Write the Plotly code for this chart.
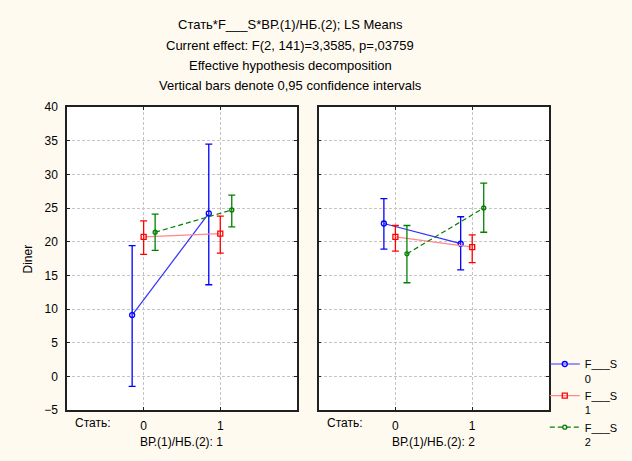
import plotly.graph_objects as go

# Data
stat_levels = [0, 1]
groups = ["F___S<br>0", "F___S<br>1", "F___S<br>2"]
panel_labels = ["ВР.(1)/НБ.(2): 1", "ВР.(1)/НБ.(2): 2"]

# panel 1 (ВР.(1)/НБ.(2) = 1)
p1_mean = [[9.1, 24.2], [20.7, 21.2], [21.4, 24.7]]
p1_lo = [[-1.5, 13.6], [18.1, 18.3], [18.7, 22.2]]
p1_hi = [[19.4, 34.5], [23.1, 23.8], [24.1, 26.9]]
# panel 2 (ВР.(1)/НБ.(2) = 2)
p2_mean = [[22.7, 19.7], [20.7, 19.2], [18.2, 25.0]]
p2_lo = [[18.9, 15.8], [18.6, 16.9], [13.9, 21.4]]
p2_hi = [[26.4, 23.7], [22.4, 21.0], [22.4, 28.7]]

colors = ["#0000FF", "#FF0000", "#008000"]
line_colors = ["#3030FF", "#FF8888", "#008000"]
dashes = ["solid", "solid", "5px,3px"]
symbols = ["circle-open", "square-open", "circle-open"]
sizes = [5, 5, 4]
offsets = [-0.15, 0.0, 0.15]

FONT = "Liberation Sans, Arial, sans-serif"

fig = go.Figure()
panels = [(p1_mean, p1_lo, p1_hi, "x", "y"), (p2_mean, p2_lo, p2_hi, "x2", "y2")]
for pi, (means, los, his, xa, ya) in enumerate(panels):
    for g in range(3):
        xs = [s + offsets[g] for s in stat_levels]
        m = means[g]
        fig.add_trace(go.Scatter(
            x=xs, y=m, xaxis=xa, yaxis=ya,
            mode="lines+markers",
            name=groups[g], legendgroup=str(g), showlegend=(pi == 0),
            line=dict(color=line_colors[g], width=1.2, dash=dashes[g]),
            marker=dict(symbol=symbols[g], size=sizes[g], color=colors[g],
                        line=dict(color=colors[g], width=1.3)),
            error_y=dict(type="data", symmetric=False,
                         array=[h - v for h, v in zip(his[g], m)],
                         arrayminus=[v - l for l, v in zip(los[g], m)],
                         color=colors[g], thickness=1.3, width=3.5),
        ))

axis_common = dict(
    showline=True, linecolor="#202020", linewidth=1.5, mirror="ticks",
    ticks="inside", ticklen=3, tickcolor="#202020",
    showgrid=True, gridcolor="#C4C4C4", griddash="3px,2px", gridwidth=1,
    zeroline=False, tickfont=dict(family=FONT, size=12, color="black"),
)
xaxis_common = dict(axis_common, range=[-1, 2], tickvals=stat_levels,
                    ticktext=[str(s) for s in stat_levels], ticklabelstandoff=4)
yaxis_common = dict(axis_common, range=[-5, 40], dtick=5, tick0=0)

fig.update_layout(
    width=632, height=461,
    margin=dict(l=67, r=83, t=107, b=51, autoexpand=False),
    paper_bgcolor="#FFFAF0", plot_bgcolor="white",
    xaxis=dict(xaxis_common, domain=[0, 0.477], anchor="y"),
    xaxis2=dict(xaxis_common, domain=[0.522, 1], anchor="y2"),
    yaxis=dict(yaxis_common, anchor="x", ticklabelstandoff=5),
    yaxis2=dict(yaxis_common, anchor="x2", showticklabels=False),
    showlegend=True,
    legend=dict(xref="container", yref="container", x=0.862, y=0.24,
                xanchor="left", yanchor="top", valign="top",
                bgcolor="rgba(0,0,0,0)", tracegroupgap=0,
                font=dict(family=FONT, size=11, color="black"),
                itemwidth=30),
    font=dict(family=FONT, size=12, color="black"),
)

titles = ["Стать*F___S*ВР.(1)/НБ.(2); LS Means",
          "Current effect: F(2, 141)=3,3585, p=,03759",
          "Effective hypothesis decomposition",
          "Vertical bars denote 0,95 confidence intervals"]
title_y = [1.272, 1.202, 1.137, 1.071]
for t, yy in zip(titles, title_y):
    fig.add_annotation(text=t, xref="paper", yref="paper", x=0.463, y=yy,
                       xanchor="center", yanchor="middle", showarrow=False,
                       font=dict(family=FONT, size=13, color="black"))

# y axis title
fig.add_annotation(text="Diner", xref="paper", yref="paper", x=-0.081, y=0.5,
                   textangle=-90, xanchor="center", yanchor="middle", showarrow=False,
                   font=dict(family=FONT, size=12, color="black"))

# x axis factor labels
for xa, lab in zip(["x", "x2"], panel_labels):
    fig.add_annotation(text="Стать:", xref=xa, yref="paper", x=-0.4, y=-0.043,
                       xanchor="right", yanchor="middle", showarrow=False,
                       font=dict(family=FONT, size=12, color="black"))
    fig.add_annotation(text=lab, xref=xa, yref="paper", x=0.5, y=-0.104,
                       xanchor="center", yanchor="middle", showarrow=False,
                       font=dict(family=FONT, size=12, color="black"))

fig.write_html("out.html",
               config={"displayModeBar": False},
               post_script="document.body.style.margin='0';"
                           "document.body.style.background='#FFFAF0';")
